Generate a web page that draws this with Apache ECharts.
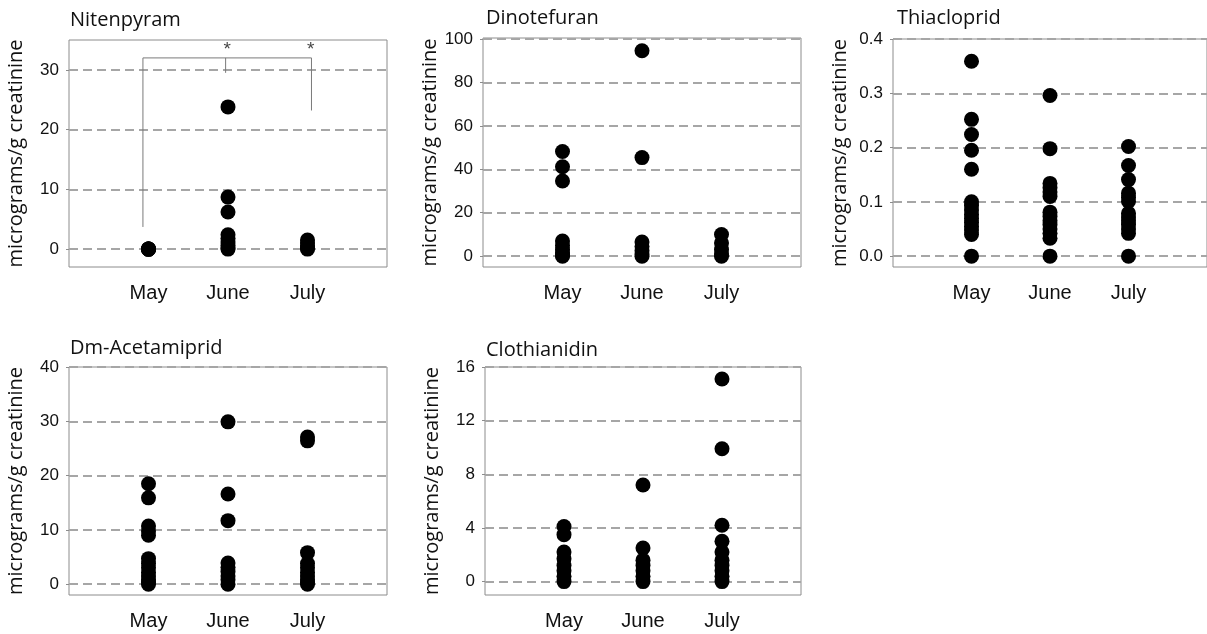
<!DOCTYPE html>
<html>
<head>
<meta charset="utf-8">
<script src="https://cdn.jsdelivr.net/npm/echarts@6/dist/echarts.min.js"></script>
<style>
html,body{margin:0;padding:0;background:#fff;}
#chart{width:1207px;height:634px;}
</style>
</head>
<body>
<div id="chart"></div>
<script>
// ---- data ----
const months = ['May', 'June', 'July'];
const panelTitles = ['Nitenpyram', 'Dinotefuran', 'Thiacloprid', 'Dm-Acetamiprid', 'Clothianidin'];
const yAxisName = 'micrograms/g creatinine';

const nitenpyramMay  = [0, 0, 0, 0, 0];
const nitenpyramJune = [23.8, 8.7, 6.2, 2.4, 1.8, 1.2, 0.6, 0.2, 0];
const nitenpyramJuly = [1.5, 1.0, 0.5, 0.2, 0];

const dinotefuranMay  = [48.2, 41.2, 34.6, 7.0, 5.0, 3.0, 1.5, 0.5, 0];
const dinotefuranJune = [94.6, 45.4, 6.5, 4.5, 2.5, 1.0, 0];
const dinotefuranJuly = [10.0, 6.0, 3.0, 1.0, 0];

const thiaclopridMay  = [0.359, 0.252, 0.224, 0.195, 0.16, 0.10, 0.093, 0.085, 0.077, 0.07, 0.062, 0.055, 0.048, 0.04, 0];
const thiaclopridJune = [0.296, 0.198, 0.134, 0.126, 0.118, 0.11, 0.081, 0.073, 0.065, 0.058, 0.05, 0.042, 0.033, 0];
const thiaclopridJuly = [0.202, 0.167, 0.141, 0.116, 0.108, 0.101, 0.079, 0.072, 0.065, 0.058, 0.05, 0.042, 0];

const acetamipridMay  = [18.5, 15.9, 10.7, 9.8, 9.0, 4.7, 3.8, 3.0, 2.2, 1.5, 0.8, 0.3, 0];
const acetamipridJune = [29.9, 16.6, 11.7, 3.9, 3.1, 2.3, 1.5, 0.8, 0];
const acetamipridJuly = [27.1, 26.4, 5.8, 3.8, 3.0, 2.2, 1.5, 0.8, 0.3, 0];

const clothianidinMay  = [4.1, 3.5, 2.2, 1.7, 1.2, 0.8, 0.4, 0];
const clothianidinJune = [7.2, 2.5, 1.6, 1.2, 0.8, 0.4, 0];
const clothianidinJuly = [15.1, 9.9, 4.2, 3.0, 2.2, 1.6, 1.2, 0.8, 0.4, 0];

const nitenpyramTicks  = [0, 10, 20, 30];
const dinotefuranTicks = [0, 20, 40, 60, 80, 100];
const thiaclopridTicks = [0, 0.1, 0.2, 0.3, 0.4];
const acetamipridTicks = [0, 10, 20, 30, 40];
const clothianidinTicks = [0, 4, 8, 12, 16];

const nitenpyramRange  = [-3, 35];
const dinotefuranRange = [-5, 100.5];
const thiaclopridRange = [-0.02, 0.4];
const acetamipridRange = [-2, 40];
const clothianidinRange = [-1, 16];

// significance bracket (Nitenpyram)
const bracketMain = [[0.93, 3.7], [0.93, 32], [3.05, 32], [3.05, 23.2]];
const bracketJune = [[1.97, 32], [1.97, 29.5]];
const asterisks = [[1.99, 33.4], [3.04, 33.4]];

// ---- layout ----
const panelData = [
  [nitenpyramMay, nitenpyramJune, nitenpyramJuly],
  [dinotefuranMay, dinotefuranJune, dinotefuranJuly],
  [thiaclopridMay, thiaclopridJune, thiaclopridJuly],
  [acetamipridMay, acetamipridJune, acetamipridJuly],
  [clothianidinMay, clothianidinJune, clothianidinJuly]
];
const panelTicks = [nitenpyramTicks, dinotefuranTicks, thiaclopridTicks, acetamipridTicks, clothianidinTicks];
const panelRanges = [nitenpyramRange, dinotefuranRange, thiaclopridRange, acetamipridRange, clothianidinRange];
const panelDecimals = [0, 0, 1, 0, 0];

const grids = [
  {left: 69, top: 40, width: 318, height: 227},
  {left: 483, top: 38, width: 318, height: 229},
  {left: 893, top: 39, width: 318, height: 228},
  {left: 69, top: 367, width: 318, height: 228},
  {left: 485, top: 367, width: 316, height: 228}
];
const titlePos = [
  {left: 70, top: 10},
  {left: 486, top: 8},
  {left: 897, top: 8},
  {left: 70, top: 338},
  {left: 486, top: 340}
];

const axisGray = '#8c8c8c';
const gridGray = '#a6a6a6';

const option = {
  animation: false,
  backgroundColor: '#ffffff',
  title: panelTitles.map((t, i) => ({
    text: t, left: titlePos[i].left, top: titlePos[i].top, padding: 0,
    textStyle: {fontFamily: 'Open Sans', fontSize: 20, fontWeight: 'normal', color: '#111'}
  })),
  grid: grids.map(g => Object.assign({show: true, borderColor: axisGray, borderWidth: 1, backgroundColor: 'transparent'}, g)),
  xAxis: grids.map((g, i) => ({
    type: 'value', gridIndex: i, min: 0, max: 4,
    axisLine: {show: false},
    splitLine: {show: false},
    axisTick: {show: true, length: 4, customValues: [1, 2, 3], lineStyle: {color: axisGray}},
    axisLabel: {
      customValues: [1, 2, 3], margin: 16,
      formatter: v => months[Math.round(v) - 1] || '',
      fontFamily: 'Liberation Sans', fontSize: 20, color: '#111'
    }
  })),
  yAxis: grids.map((g, i) => ({
    type: 'value', gridIndex: i, min: panelRanges[i][0], max: panelRanges[i][1],
    name: yAxisName, nameLocation: 'middle', nameGap: 43,
    nameTextStyle: {fontFamily: 'Open Sans', fontSize: 20, color: '#111'},
    axisLine: {show: false},
    axisTick: {show: true, length: 3, customValues: panelTicks[i], lineStyle: {color: axisGray}},
    splitLine: {show: true, lineStyle: {color: gridGray, width: 1.8, type: [9, 5]}},
    axisLabel: {
      customValues: panelTicks[i], margin: 10,
      formatter: v => Number(v).toFixed(panelDecimals[i]),
      fontFamily: 'Liberation Sans', fontSize: 17, color: '#111'
    }
  })),
  series: []
};

panelData.forEach((months3, i) => {
  months3.forEach((vals, m) => {
    option.series.push({
      type: 'scatter', xAxisIndex: i, yAxisIndex: i,
      symbol: 'circle', symbolSize: 15,
      itemStyle: {color: '#000', opacity: 1},
      data: vals.map(v => [m + 1, v]),
      z: 3
    });
  });
});

option.series.push({
  type: 'line', xAxisIndex: 0, yAxisIndex: 0, symbol: 'none',
  lineStyle: {color: '#7a7a7a', width: 1}, data: bracketMain, z: 2
});
option.series.push({
  type: 'line', xAxisIndex: 0, yAxisIndex: 0, symbol: 'none',
  lineStyle: {color: '#7a7a7a', width: 1}, data: bracketJune, z: 2
});
option.series.push({
  type: 'scatter', xAxisIndex: 0, yAxisIndex: 0, symbolSize: 1,
  itemStyle: {color: 'rgba(0,0,0,0)'},
  label: {show: true, position: 'inside', formatter: '*', color: '#111', fontFamily: 'Liberation Sans', fontSize: 19},
  data: asterisks, z: 4
});

const chart = echarts.init(document.getElementById('chart'));
chart.setOption(option);
</script>
</body>
</html>
